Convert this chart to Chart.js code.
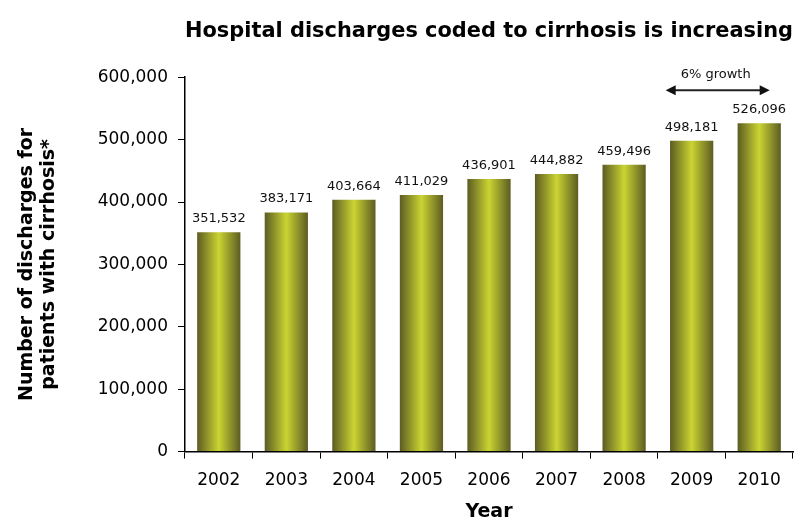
<!DOCTYPE html>
<html>
<head>
<meta charset="utf-8">
<script src="https://cdn.jsdelivr.net/npm/chart.js@4"></script>
<style>
  html, body { margin: 0; padding: 0; background: #fff; }
  #wrap { width: 796px; height: 523px; }
</style>
</head>
<body>
<div id="wrap"><canvas id="cirrhosis"></canvas></div>
<script>
const years = ["2002", "2003", "2004", "2005", "2006", "2007", "2008", "2009", "2010"];
const discharges = [351532, 383171, 403664, 411029, 436901, 444882, 459496, 498181, 526096];
const yTicks = [0, 100000, 200000, 300000, 400000, 500000, 600000];

// the reference text is a bit wide for Arial, DejaVu fits its boxes better
const FONT = "'DejaVu Sans', 'Liberation Sans', Arial, sans-serif";
const BAR_PCT = 0.64;

// horizontal gradient per bar: dark edges, bright centre
function barGradient(c) {
  const chart = c.chart;
  const xs = chart.scales.x;
  if (!chart.chartArea || !xs) return "#b5bd2e";
  const cx = xs.getPixelForValue(c.dataIndex);
  const half = (xs.width / years.length) * BAR_PCT / 2;
  const g = chart.ctx.createLinearGradient(cx - half, 0, cx + half, 0);
  g.addColorStop(0, "#5c5c22");
  g.addColorStop(0.5, "#cbd432");
  g.addColorStop(1, "#5c5c22");
  return g;
}

const valueLabels = {
  id: "valueLabels",
  afterDatasetsDraw(chart) {
    const ctx = chart.ctx;
    const meta = chart.getDatasetMeta(0);
    ctx.save();
    ctx.font = "13px " + FONT;
    ctx.fillStyle = "#111";
    ctx.textAlign = "center";
    ctx.textBaseline = "bottom";
    meta.data.forEach((bar, i) => {
      ctx.fillText(discharges[i].toLocaleString("en-US"), bar.x, bar.y - 7);
    });

    // growth arrow between 2009 and 2010
    const xs = chart.scales.x, ys = chart.scales.y;
    const cat = xs.width / years.length;
    const x1 = xs.getPixelForValue(7) - 0.385 * cat;
    const x2 = xs.getPixelForValue(8) + 0.155 * cat;
    const ay = ys.getPixelForValue(579000);
    ctx.strokeStyle = "#222";
    ctx.lineWidth = 2;
    ctx.beginPath();
    ctx.moveTo(x1 + 6, ay);
    ctx.lineTo(x2 - 6, ay);
    ctx.stroke();
    ctx.fillStyle = "#111";
    ctx.beginPath();
    ctx.moveTo(x1, ay); ctx.lineTo(x1 + 10, ay - 5); ctx.lineTo(x1 + 10, ay + 5); ctx.closePath();
    ctx.fill();
    ctx.beginPath();
    ctx.moveTo(x2, ay); ctx.lineTo(x2 - 10, ay - 5); ctx.lineTo(x2 - 10, ay + 5); ctx.closePath();
    ctx.fill();
    ctx.font = "13px " + FONT;
    ctx.textBaseline = "alphabetic";
    ctx.fillText("6% growth", (x1 + x2) / 2 - 2, ay - 12);
    ctx.restore();
  }
};

new Chart(document.getElementById("cirrhosis"), {
  type: "bar",
  data: {
    labels: years,
    datasets: [{
      data: discharges,
      backgroundColor: barGradient,
      borderWidth: 0,
      barPercentage: BAR_PCT,
      categoryPercentage: 1
    }]
  },
  options: {
    responsive: true,
    maintainAspectRatio: false,
    animation: false,
    layout: { padding: { top: 11, right: 3, left: 12, bottom: 0 } },
    plugins: {
      legend: { display: false },
      tooltip: { enabled: false },
      title: {
        display: true,
        fullSize: false,
        text: "Hospital discharges coded to cirrhosis is increasing",
        color: "#000",
        font: { family: FONT, size: 21, weight: "bold" },
        padding: { top: 8, bottom: 33 }
      }
    },
    scales: {
      x: {
        grid: { display: true, drawOnChartArea: false, drawTicks: true, tickLength: 7, color: "#000", offset: true },
        border: { display: true, color: "#000", width: 1.5 },
        ticks: { color: "#000", font: { family: FONT, size: 17 }, padding: 12 },
        title: {
          display: true, text: "Year", color: "#000",
          font: { family: FONT, size: 19, weight: "bold", lineHeight: 1 },
          padding: { top: 0, bottom: 1 }
        }
      },
      y: {
        min: 0,
        max: 600000,
        afterBuildTicks: axis => { axis.ticks = yTicks.map(v => ({ value: v })); },
        grid: { display: true, drawOnChartArea: false, drawTicks: true, tickLength: 7, color: "#000" },
        border: { display: true, color: "#000", width: 1.5 },
        ticks: {
          color: "#000",
          font: { family: FONT, size: 17 },
          padding: 10,
          callback: v => v.toLocaleString("en-US")
        },
        title: {
          display: true,
          text: ["Number of discharges for", "patients with cirrhosis*"],
          color: "#000",
          font: { family: FONT, size: 19, weight: "bold", lineHeight: 1.15 },
          padding: { bottom: 28 }
        }
      }
    }
  },
  plugins: [valueLabels]
});
</script>
</body>
</html>
